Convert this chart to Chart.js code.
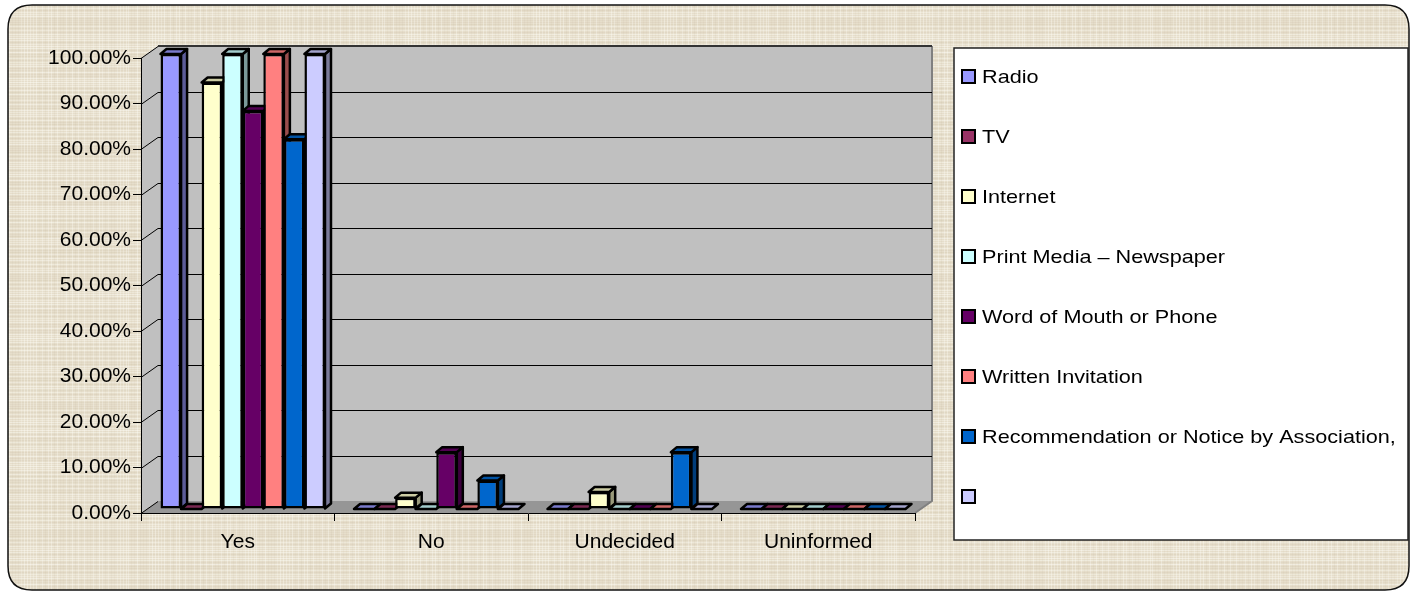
<!DOCTYPE html>
<html>
<head>
<meta charset="utf-8">
<script src="https://cdn.jsdelivr.net/npm/chart.js@4.4.1/dist/chart.umd.min.js"></script>
<style>
  html, body { margin: 0; padding: 0; background: #fff; }
  #wrap { width: 1412px; height: 593px; position: relative; }
</style>
</head>
<body>
<div id="wrap"><canvas id="myChart"></canvas></div>
<script>
// survey answers per source, as share of respondents
var categories = ["Yes", "No", "Undecided", "Uninformed"];
var seriesNames = ["Radio", "TV", "Internet", "Print Media \u2013 Newspaper", "Word of Mouth or Phone",
  "Written Invitation", "Recommendation or Notice by Association,", ""];
var radio = [1, 0, 0, 0];
var tv = [0, 0, 0, 0];
var internet = [0.9375, 0.025, 0.0375, 0];
var printMedia = [1, 0, 0, 0];
var wordOfMouth = [0.875, 0.125, 0, 0];
var writtenInvite = [1, 0, 0, 0];
var recommendation = [0.8125, 0.0625, 0.125, 0];
var unnamed = [1, 0, 0, 0];
var barColors = ["#9999ff", "#993366", "#ffffcc", "#ccffff", "#660066", "#ff8080", "#0066cc", "#ccccff"];

var seriesValues = [radio, tv, internet, printMedia, wordOfMouth, writtenInvite, recommendation, unnamed];

var FONT = "'Liberation Sans', Arial, sans-serif";
var wallDepth = { x: 17, y: 12 };
var barShift = { x: 5, y: 4 };
var barDepth = { x: 6, y: 5 };

function shade(hex, f) {
  var n = parseInt(hex.slice(1), 16);
  var r = Math.round(((n >> 16) & 255) * f);
  var g = Math.round(((n >> 8) & 255) * f);
  var b = Math.round((n & 255) * f);
  return "rgb(" + r + "," + g + "," + b + ")";
}

// beige woven paper tile for the chart background
function makeTexture() {
  var c = document.createElement("canvas");
  c.width = 128; c.height = 128;
  var g = c.getContext("2d");
  g.fillStyle = "#e6decb";
  g.fillRect(0, 0, 128, 128);
  function hash(i) { var v = Math.sin(i * 12.9898 + 4.1) * 43758.5453; return v - Math.floor(v); }
  for (var y = 0; y < 128; y += 2) {
    var h = hash(y);
    g.fillStyle = h > 0.4 ? "rgba(255,255,250," + (0.15 + h * 0.3) + ")" : "rgba(160,140,110," + (0.05 + h * 0.12) + ")";
    g.fillRect(0, y, 128, 1);
  }
  for (var x = 0; x < 128; x += 3) {
    var k = hash(x + 500);
    g.fillStyle = k > 0.45 ? "rgba(255,255,250," + (0.1 + k * 0.25) + ")" : "rgba(160,140,110," + (0.03 + k * 0.08) + ")";
    g.fillRect(x, 0, 1, 128);
  }
  return c;
}

function roundRect(ctx, x, y, w, h, r) {
  ctx.beginPath();
  ctx.moveTo(x + r, y);
  ctx.lineTo(x + w - r, y);
  ctx.quadraticCurveTo(x + w, y, x + w, y + r);
  ctx.lineTo(x + w, y + h - r);
  ctx.quadraticCurveTo(x + w, y + h, x + w - r, y + h);
  ctx.lineTo(x + r, y + h);
  ctx.quadraticCurveTo(x, y + h, x, y + h - r);
  ctx.lineTo(x, y + r);
  ctx.quadraticCurveTo(x, y, x + r, y);
  ctx.closePath();
}

function poly(ctx, pts, fill) {
  ctx.beginPath();
  ctx.moveTo(pts[0][0], pts[0][1]);
  for (var i = 1; i < pts.length; i++) ctx.lineTo(pts[i][0], pts[i][1]);
  ctx.closePath();
  ctx.fillStyle = fill;
  ctx.fill();
}

var texture = makeTexture();

var backdrop = {
  id: "backdrop",
  beforeDraw: function (chart) {
    var ctx = chart.ctx;
    var a = chart.chartArea;
    var ys = chart.scales.y;
    var dx = wallDepth.x, dy = wallDepth.y;

    ctx.save();
    roundRect(ctx, 8, 5, 1401, 585, 24);
    ctx.fillStyle = ctx.createPattern(texture, "repeat");
    ctx.fill();
    ctx.lineWidth = 1.5;
    ctx.strokeStyle = "#111";
    ctx.stroke();

    // back wall, side wall and floor
    poly(ctx, [[a.left + dx, a.top - dy], [a.right + dx, a.top - dy], [a.right + dx, a.bottom - dy], [a.left + dx, a.bottom - dy]], "#c0c0c0");
    poly(ctx, [[a.left, a.top], [a.left + dx, a.top - dy], [a.left + dx, a.bottom - dy], [a.left, a.bottom]], "#c0c0c0");
    poly(ctx, [[a.left, a.bottom], [a.left + dx, a.bottom - dy], [a.right + dx, a.bottom - dy], [a.right, a.bottom]], "#969696");

    // wall edges
    ctx.strokeStyle = "#808080";
    ctx.lineWidth = 2;
    ctx.beginPath();
    ctx.moveTo(a.right + dx, a.top - dy);
    ctx.lineTo(a.right + dx, a.bottom - dy);
    ctx.lineTo(a.right, a.bottom);
    ctx.stroke();

    // gridlines along the side wall and the back wall
    ctx.strokeStyle = "#000";
    ctx.lineWidth = 1;
    ys.ticks.forEach(function (t) {
      var py = Math.round(ys.getPixelForValue(t.value)) + 0.5;
      ctx.beginPath();
      ctx.moveTo(a.left, py);
      ctx.lineTo(a.left + dx, py - dy);
      if (t.value > 0) ctx.lineTo(a.right + dx, py - dy);
      ctx.stroke();
    });
    ctx.lineWidth = 2;
    ctx.strokeStyle = "#333";
    ctx.beginPath();
    ctx.moveTo(a.left + dx, a.top - dy);
    ctx.lineTo(a.right + dx, a.top - dy);
    ctx.stroke();
    ctx.restore();
  }
};

// tops and right-hand sides of the bars, front faces come from Chart.js
var blocks = {
  id: "blocks",
  beforeDatasetsDraw: function (chart) {
    var ctx = chart.ctx;
    ctx.save();
    ctx.translate(barShift.x, barShift.y * -1);
    ctx.lineWidth = 2.5;
    ctx.lineJoin = "round";
    ctx.strokeStyle = "#000";
    var dx = barDepth.x, dy = barDepth.y;
    for (var i = 0; i < categories.length; i++) {
      for (var d = 0; d < chart.data.datasets.length; d++) {
        var bar = chart.getDatasetMeta(d).data[i];
        var p = bar.getProps(["x", "y", "base", "width"], true);
        var left = p.x - p.width / 2, right = p.x + p.width / 2;
        var top = Math.min(p.y, p.base), bottom = Math.max(p.y, p.base);
        var col = barColors[d];
        if (bottom - top > 0.5) {
          poly(ctx, [[right, top], [right + dx, top - dy], [right + dx, bottom - dy], [right, bottom]], shade(col, 0.6));
          ctx.stroke();
        }
        poly(ctx, [[left, top], [left + dx, top - dy], [right + dx, top - dy], [right, top]], shade(col, 0.8));
        ctx.stroke();
      }
    }
  },
  afterDatasetsDraw: function (chart) {
    chart.ctx.restore();
  }
};

var legendBox = {
  id: "legendBox",
  afterDraw: function (chart) {
    var ctx = chart.ctx;
    ctx.save();
    ctx.fillStyle = "#fff";
    ctx.fillRect(954, 48, 454, 492);
    ctx.strokeStyle = "#222";
    ctx.lineWidth = 1.5;
    ctx.strokeRect(954, 48, 454, 492);
    chart.data.datasets.forEach(function (ds, i) {
      var cy = 77 + i * 60;
      ctx.fillStyle = ds.backgroundColor;
      ctx.fillRect(962, cy - 7, 13, 13);
      ctx.lineWidth = 2;
      ctx.strokeStyle = "#000";
      ctx.strokeRect(962, cy - 7, 13, 13);
      ctx.save();
      ctx.translate(982, cy);
      ctx.scale(1.17, 1);
      ctx.font = "18.5px " + FONT;
      ctx.textBaseline = "middle";
      ctx.fillStyle = "#000";
      ctx.fillText(ds.label, 0, 1);
      ctx.restore();
    });
    ctx.restore();
  }
};

var datasets = seriesValues.map(function (vals, i) {
  return {
    label: seriesNames[i],
    data: vals,
    backgroundColor: barColors[i],
    borderColor: "#000",
    borderWidth: 2.5,
    borderSkipped: false,
    clip: false
  };
});

new Chart("myChart", {
  type: "bar",
  data: { labels: categories, datasets: datasets },
  plugins: [backdrop, blocks, legendBox],
  options: {
    responsive: true,
    maintainAspectRatio: false,
    animation: false,
    devicePixelRatio: 1,
    layout: { padding: { left: 10, right: 497, top: 58, bottom: 40 } },
    datasets: { bar: { categoryPercentage: 0.85, barPercentage: 1.0 } },
    plugins: { legend: { display: false }, tooltip: { enabled: false } },
    scales: {
      x: {
        afterFit: function (s) { s.height = 40; },
        grid: { display: true, drawOnChartArea: false, drawTicks: true, tickLength: 8, color: "#000" },
        border: { display: true, color: "#000", width: 1 },
        ticks: { color: "#000", padding: 9, font: { family: FONT, size: 21 } }
      },
      y: {
        min: 0,
        max: 1,
        afterFit: function (s) { s.width = 131; },
        grid: { display: true, drawOnChartArea: false, drawTicks: true, tickLength: 8, color: "#000" },
        border: { display: true, color: "#000", width: 1 },
        ticks: {
          stepSize: 0.1,
          color: "#000",
          padding: 2,
          font: { family: FONT, size: 21 },
          callback: function (v) { return (v * 100).toFixed(2) + "%"; }
        }
      }
    }
  }
});
</script>
</body>
</html>
